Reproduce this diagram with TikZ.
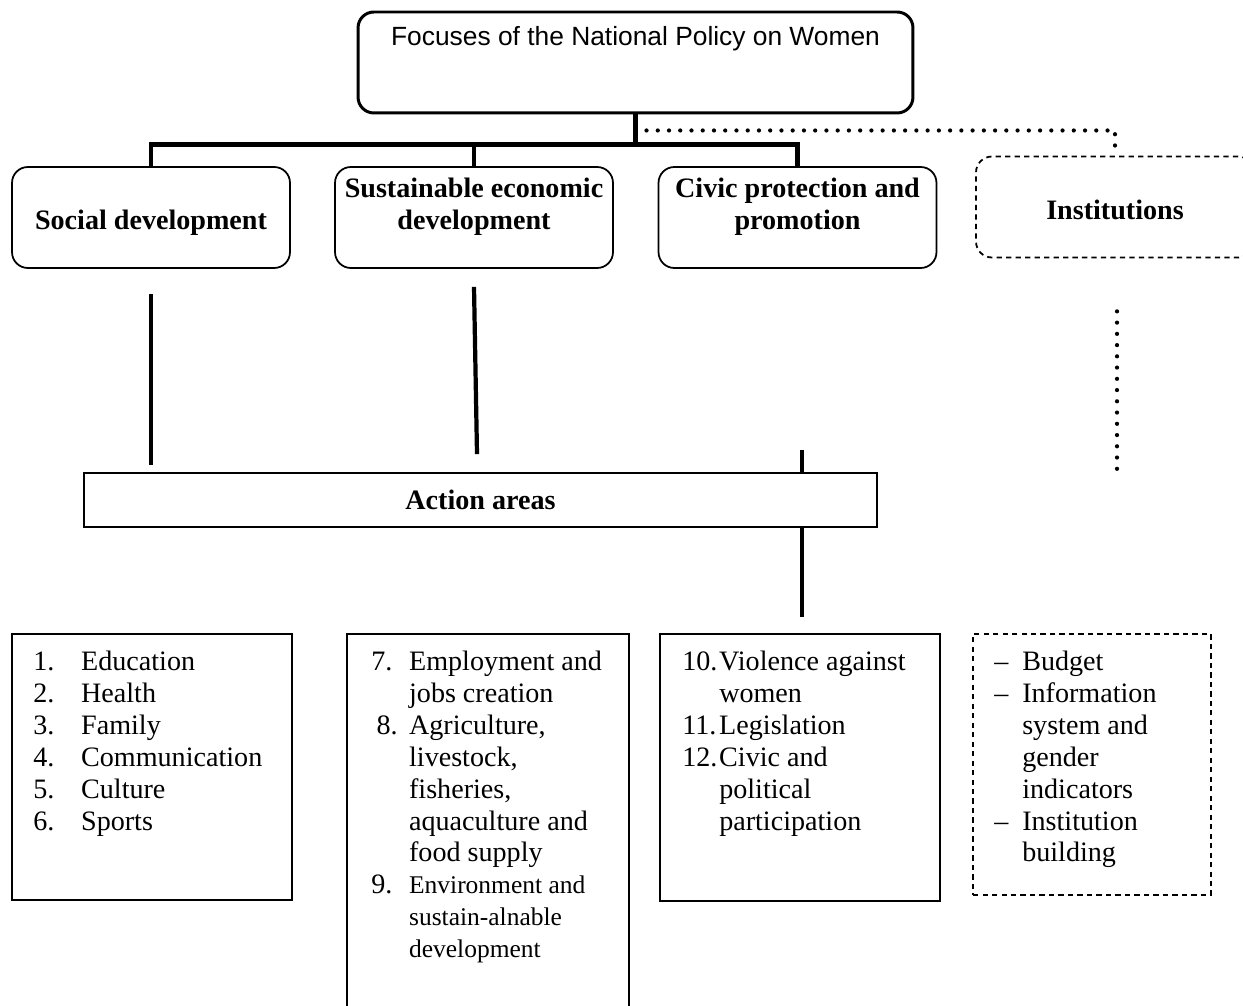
\documentclass[tikz,border=0pt]{standalone}
\usepackage{fontspec}
\setmainfont{Liberation Serif}
\newfontfamily\topfont{Liberation Sans}
\usepackage{array}
\usetikzlibrary{calc}

\begin{document}
\begin{tikzpicture}[x=0.02cm,y=-0.02cm,
	focus_node/.style={draw,rounded corners=9pt,line width=1.7pt,minimum width=11.1cm,minimum height=2.02cm},
	area_node/.style={draw,rounded corners=9pt,line width=1pt,minimum width=5.56cm,minimum height=2.02cm},
	inst_node/.style={area_node,dash pattern=on 3pt off 2.4pt},
	head_text/.style={font=\fontsize{16}{18.14}\selectfont\bfseries,align=center,inner sep=0pt},
	list_box/.style={draw,line width=1pt},
	list_text/.style={anchor=north west,inner sep=0pt,font=\fontsize{16}{18.14}\selectfont},
	tree/.style={line width=2.7pt},
	link/.style={line width=2.4pt},
	dots/.style={line width=2.4pt,line cap=round,dash pattern=on 0pt off 6.4pt}]

		\clip (0,0) rectangle (1243,1006);

		\node[focus_node] (top) at (635.5,62.5) {};
		\node[font=\topfont\fontsize{15}{18}\selectfont,inner sep=0pt] (toptxt) at ($(top.north)+(0,28)$) {Focuses of the National Policy on Women};

		\node[area_node] (soc) at (151,217.5) {};
		\node[area_node] (sus) at (474,217.5) {};
		\node[area_node] (civ) at (797.5,217.5) {};
		\node[inst_node] (inst) at (1115,207) {};
		\node[head_text] (soctxt) at ($(soc.center)+(0,5.5)$) {Social development};
		\node[head_text] (sustxt) at ($(sus.center)+(0,-10.5)$) {Sustainable economic\\development};
		\node[head_text] (civtxt) at ($(civ.center)+(0,-10.5)$) {Civic protection and\\promotion};
		\node[head_text] (insttxt) at ($(inst.center)+(0,3)$) {Institutions};

		\coordinate (hub) at ($(top.south)+(0,30)$);
		\draw[tree] (top.south) -- (hub);
		\draw[tree] (soc.north) -- (soc.north |- hub) -- (civ.north |- hub) -- (civ.north);
		\draw[tree] (sus.north) -- (sus.north |- hub);
		\draw[dots] ($(top.south)+(11,16)$) -| (inst.north);

		\node[draw,line width=1pt,minimum width=15.86cm,minimum height=1.08cm,font=\fontsize{16}{18.14}\selectfont\bfseries] (act) at (480.5,500) {Action areas};

		\coordinate (cx) at ($(civ.south)+(4.5,181)$);
		\draw[link] ($(soc.south)+(0,25)$) -- ($(act.north -| soc.south)+(0,-7)$);
		\draw[link] ($(sus.south)+(0,18)$) -- ($(act.north -| sus.south)+(3,-18)$);
		\draw[link] (cx) -- (act.north -| cx);
		\draw[link] (act.south -| cx) -- ++(0,89);
		\draw[dots] ($(inst.south)+(2,53)$) -- ++(0,160);

		\node[list_box,minimum width=5.6cm,minimum height=5.32cm] (b1) at (152,767) {};
		\node[list_box,minimum width=5.64cm,minimum height=7.92cm] (b2) at (488,832) {};
		\node[list_box,minimum width=5.6cm,minimum height=5.34cm] (b3) at (800,767.5) {};
		\node[list_box,dash pattern=on 3pt off 2.4pt,minimum width=4.76cm,minimum height=5.22cm] (b4) at (1092,764.5) {};

		\node[list_text] (l1) at (33,648) {\begin{tabular}{@{}p{27.2pt}@{}l@{}}
			1.&Education\\ 2.&Health\\ 3.&Family\\ 4.&Communication\\ 5.&Culture\\ 6.&Sports
		\end{tabular}};
		\node[list_text] (l2) at (371,648) {\begin{tabular}{@{}p{21.5pt}@{}l@{}}
			7.&Employment and\\ &jobs creation\\ \hspace{3pt}8.&Agriculture,\\ &livestock,\\ &fisheries,\\ &aquaculture and\\ &food supply\\
			9.&{\fontsize{14.5}{18.14}\selectfont Environment and}\\ &{\fontsize{14.5}{18.14}\selectfont sustain-alnable}\\ &{\fontsize{14.5}{18.14}\selectfont development}
		\end{tabular}};
		\node[list_text] (l3) at (682,648) {\begin{tabular}{@{}p{21pt}@{}l@{}}
			10.&Violence against\\ &women\\ 11.&Legislation\\ 12.&Civic and\\ &political\\ &participation
		\end{tabular}};
		\node[list_text] (l4) at (994,648) {\begin{tabular}{@{}p{15.9pt}@{}l@{}}
			--&Budget\\ --&Information\\ &system and\\ &gender\\ &indicators\\ --&Institution\\ &building
		\end{tabular}};
\end{tikzpicture}
\end{document}
